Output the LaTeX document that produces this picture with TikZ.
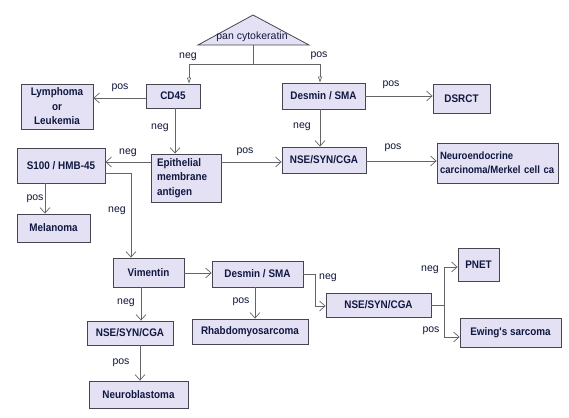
\documentclass[tikz,border=0pt]{standalone}
\usepackage{fontspec}
\setmainfont{Liberation Sans}[Ligatures=TeXOff]
\newfontfamily\boxfont{Liberation Sans}[Ligatures=TeXOff, FakeStretch=0.9]
\usetikzlibrary{arrows.meta,calc}
\definecolor{boxfill}{RGB}{228,225,245}
\definecolor{boxline}{RGB}{70,70,80}
\definecolor{txt}{RGB}{16,24,64}
\definecolor{conn}{RGB}{100,100,105}
\tikzset{
  bx/.style={draw=boxline, line width=0.9pt, fill=boxfill, text=txt,
    font=\boxfont\fontsize{11}{14.5}\selectfont\bfseries, align=center, inner sep=0pt},
  lbl/.style={text=txt!85!black, font=\fontsize{10.5}{12}\selectfont, inner sep=0pt},
  arr/.style={draw=conn, line width=0.7pt, -{Straight Barb[length=5.5pt,width=10pt]}},
  ln/.style={draw=conn, line width=0.7pt},
  hol/.style={draw=conn, line width=0.7pt, -{Triangle[open,length=6pt,width=4pt]}}
}
\begin{document}
\begin{tikzpicture}[x=1pt,y=-1pt]
\useasboundingbox[fill=white] (0,0) rectangle (569,417);
% triangle
\draw[boxline, line width=0.8pt, fill=boxfill] (198,45) -- (253,15) -- (309,45) -- cycle;
\node[text=txt, font=\fontsize{10.5}{12}\selectfont, inner sep=0pt] (pck) at (252,37) {pan cytokeratin};
\coordinate (tb) at (253,45);
\coordinate (tj) at (253,64);
\coordinate (tl) at (189,64);
\coordinate (tr) at (320,64);
% boxes
\node[bx, minimum width=72, minimum height=45] (lymph) at (57,106.5) {Lymphoma\\or\\Leukemia};
\node[bx, minimum width=54, minimum height=24] (cd45) at (173,96) {CD45};
\node[bx, minimum width=83, minimum height=26] (des1) at (323.5,96) {Desmin / SMA};
\node[bx, minimum width=57, minimum height=29] (dsrct) at (461.5,98.5) {DSRCT};
\node[bx, minimum width=70, minimum height=48, text width=58, inner xsep=6, align=left] (ema) at (186,178) {Epithelial\\membrane\\antigen};
\node[bx, minimum width=84, minimum height=26] (nse1) at (324,160) {NSE/SYN/CGA};
\node[bx, minimum width=121, minimum height=40, text width=119, inner xsep=1, align=left, font=\boxfont\fontsize{10.6}{14.5}\selectfont\bfseries] (neuro) at (497.5,163) {\hspace*{2pt}Neuroendocrine\\\hspace*{2pt}carcinoma/Merkel cell ca};
\node[bx, minimum width=88, minimum height=35] (s100) at (61,165.5) {S100 / HMB-45};
\node[bx, minimum width=73, minimum height=28] (mel) at (53.5,228) {Melanoma};
\node[bx, minimum width=71, minimum height=29] (vim) at (148.5,272.5) {Vimentin};
\node[bx, minimum width=91, minimum height=26] (des2) at (257.5,274) {Desmin / SMA};
\node[bx, minimum width=116, minimum height=25] (rhab) at (250,331.5) {Rhabdomyosarcoma};
\node[bx, minimum width=86, minimum height=24] (nse2) at (130,333) {NSE/SYN/CGA};
\node[bx, minimum width=99, minimum height=27] (nbl) at (138.5,394.5) {Neuroblastoma};
\node[bx, minimum width=105, minimum height=24] (nse3) at (378.5,305) {NSE/SYN/CGA};
\node[bx, minimum width=41, minimum height=33] (pnet) at (478.5,264.5) {PNET};
\node[bx, minimum width=101, minimum height=29] (ewing) at (510.5,332.5) {Ewing's sarcoma};
% top connectors
\draw[ln] (tb) -- (tj);
\draw[ln] (tl) -- (tr);
\draw[hol] (tl) -- (tl |- cd45.north);
\draw[hol] (tr) -- (tr |- des1.north);
\node[lbl] (l1) at (188,57) {neg};
\node[lbl] (l2) at (319,56) {pos};
% CD45
\draw[arr] (cd45.west |- 0,98) -- (lymph.east |- 0,98);
\node[lbl] (l3) at (120,88) {pos};
\draw[arr] (175,0 |- cd45.south) -- (175,0 |- ema.north);
\node[lbl] (l4) at (160,128) {neg};
% Desmin 1
\draw[arr] (des1.east) -- (dsrct.west |- des1.east);
\node[lbl] (l5) at (391,85) {pos};
\draw[arr] (320,0 |- des1.south) -- (320,0 |- nse1.north);
\node[lbl] (l6) at (302,127) {neg};
% EMA
\draw[arr] (ema.east |- 0,162) -- (nse1.west |- 0,162);
\node[lbl] (l7) at (245,152) {pos};
\draw[arr] (ema.west |- 0,162) -- (s100.east |- 0,162);
\node[lbl] (l8) at (128,153) {neg};
% NSE1
\draw[arr] (nse1.east |- 0,161) -- (neuro.west |- 0,161);
\node[lbl] (l9) at (393,148) {pos};
% S100
\draw[arr] (45,0 |- s100.south) -- (45,0 |- mel.north);
\node[lbl] (l10) at (35,199) {pos};
\draw[arr] (s100.east |- 0,173) -| (131,0 |- vim.north);
\node[lbl] (l11) at (117,211) {neg};
% Vimentin
\draw[arr] (vim.east |- 0,273) -- (des2.west |- 0,273);
\draw[arr] (141,0 |- vim.south) -- (141,0 |- nse2.north);
\node[lbl] (l12) at (126,303) {neg};
\draw[arr] (140,0 |- nse2.south) -- (140,0 |- nbl.north);
\node[lbl] (l13) at (121,363) {pos};
% Desmin 2
\draw[arr] (255,0 |- des2.south) -- (255,0 |- rhab.north);
\node[lbl] (l14) at (241,302) {pos};
\draw[arr] (des2.east |- 0,274) -- (315,274) |- (nse3.west |- 0,306);
\node[lbl] (l15) at (328,278) {neg};
% NSE3
\draw[ln] (nse3.east |- 0,305) -- (444,305);
\draw[arr] (444,305) |- (pnet.west |- 0,267);
\draw[arr] (444,305) |- (ewing.west |- 0,337);
\node[lbl] (l16) at (430,270) {neg};
\node[lbl] (l17) at (431,331) {pos};
\end{tikzpicture}
\end{document}
